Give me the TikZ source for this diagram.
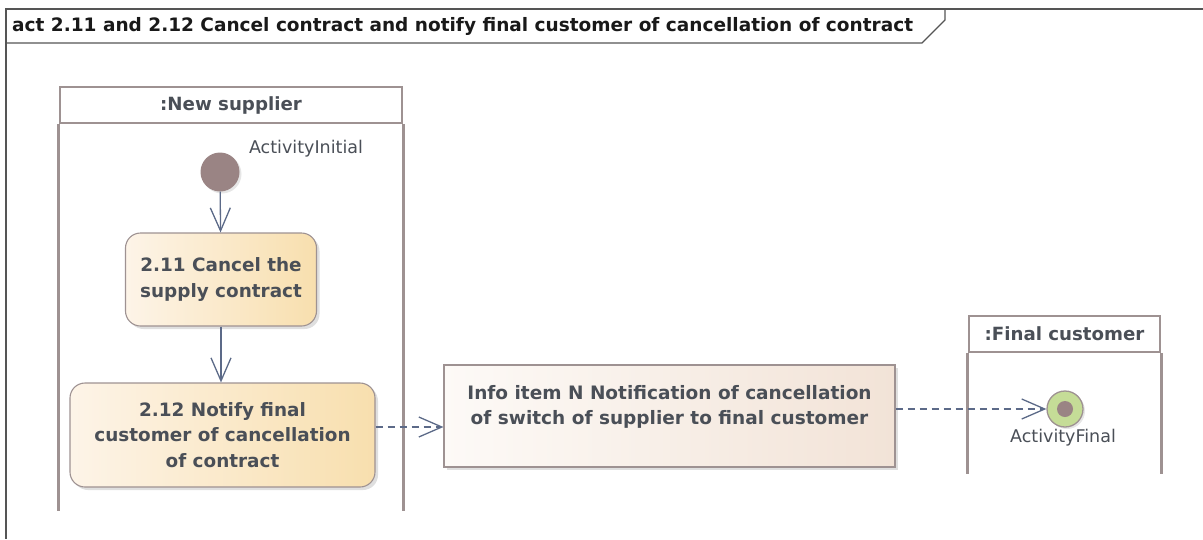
\documentclass[tikz,border=0pt]{standalone}
\usepackage{fontspec}
\setmainfont{DejaVu Sans}
\usetikzlibrary{arrows.meta, shadows, shapes, positioning, calc}
\definecolor{framegray}{HTML}{555555}
\definecolor{lanegray}{HTML}{9E9292}
\definecolor{inkgray}{HTML}{4A4F57}
\definecolor{flowslate}{HTML}{5C6A88}
\definecolor{nodebrown}{HTML}{9A8484}
\definecolor{creamleft}{HTML}{FDF4E8}
\definecolor{creamright}{HTML}{F8DFAE}
\definecolor{infoleft}{HTML}{FDFAF7}
\definecolor{inforight}{HTML}{F2E3D7}
\definecolor{finalgreen}{HTML}{C5DC97}

\tikzset{
  lanehead/.style={draw=lanegray, line width=2.6pt, fill=white, inner sep=0pt,
    font=\fontsize{18.2}{20}\selectfont\bfseries, text=inkgray},
  laneline/.style={draw=lanegray, line width=2.6pt},
  actionbox/.style={draw=lanegray, line width=1.1pt, rounded corners=15pt,
    left color=creamleft, right color=creamright, inner sep=0pt, align=center,
    font=\fontsize{18.4}{25.5}\selectfont\bfseries, text=inkgray,
    drop shadow={shadow xshift=3pt, shadow yshift=-3pt, opacity=.25}},
  infobox/.style={draw=lanegray, line width=1.1pt,
    left color=infoleft, right color=inforight, inner sep=0pt, align=center,
    drop shadow={shadow xshift=3pt, shadow yshift=-3pt, opacity=.25}},
  flow/.style={draw=flowslate, line width=1.3pt, -{Straight Barb[length=23pt, width=20pt]}},
  objflow/.style={flow, dash pattern=on 7pt off 5pt},
  smalllabel/.style={font=\fontsize{17.5}{20}\selectfont, text=inkgray, inner sep=0pt}
}

\begin{document}
\begin{tikzpicture}[x=1pt, y=-1pt]
  \useasboundingbox (0,0) rectangle (1203,539);
  % Rahmen des Diagramms
  \draw[framegray, line width=2pt] (1203,9) -- (6,9) -- (6,539);
  \draw[framegray, line width=1.3pt] (6,43) -- (922,43) -- (945,20) -- (945,9);
  \node[anchor=west, inner sep=0pt, text=black!90, font=\fontsize{18.5}{20}\selectfont\bfseries] (title) at (12,26)
    {act 2.11 and 2.12 Cancel contract and notify final customer of cancellation of contract};

  % Bahn: neuer Lieferant
  \node[lanehead, minimum width=342pt, minimum height=36pt] (supHead) at (231,105) {:New supplier};
  \draw[laneline] (supHead.south west) -- ++(0,387);
  \draw[laneline] (supHead.south east) -- ++(0,387);

  % Bahn: Endkunde
  \node[lanehead, minimum width=191pt, minimum height=36pt] (custHead) at (1064.5,334) {:Final customer};
  \draw[laneline] (custHead.south west) -- ++(0,121);
  \draw[laneline] (custHead.south east) -- ++(0,121);

  % Startknoten
  \node[circle, fill=nodebrown, minimum size=39pt, inner sep=0pt,
        drop shadow={shadow xshift=2pt, shadow yshift=-2pt, opacity=.2}] (start) at (220,172) {};
  \node[smalllabel] (startLabel) at (306,149) {ActivityInitial};

  % Aktionen
  \node[actionbox, minimum width=191pt, minimum height=93pt] (cancel) at (221,279.5)
    {2.11 Cancel the\\supply contract};
  \node[actionbox, minimum width=305pt, minimum height=104pt] (notify) at (222.5,435)
    {2.12 Notify final\\customer of cancellation\\of contract};

  % Informationsobjekt
  \node[infobox, minimum width=451pt, minimum height=102pt] (info) at (669.5,416) {};
  \node[inner sep=0pt, align=center, font=\fontsize{18.5}{25}\selectfont\bfseries, text=inkgray]
    (infoText) at (669.5,407) {Info item N Notification of cancellation\\of switch of supplier to final customer};

  % Endknoten
  \node[circle, draw=lanegray, line width=1.3pt, fill=finalgreen, minimum size=36pt, inner sep=0pt,
        drop shadow={shadow xshift=2pt, shadow yshift=-2pt, opacity=.2}] (finish) at (1065,409) {};
  \fill[nodebrown] (finish.center) circle (8pt);
  \node[smalllabel] (finishLabel) at (1063,438) {ActivityFinal};

  % Kontrollfluss
  \draw[flow] (start) -- (cancel);
  \draw[flow] (cancel) -- (cancel |- notify.north);
  % Objektfluss
  \draw[objflow] (notify.east |- 0,427) -- (info.west |- 0,427);
  \draw[objflow] (info.east |- finish) -- (finish);
\end{tikzpicture}
\end{document}
